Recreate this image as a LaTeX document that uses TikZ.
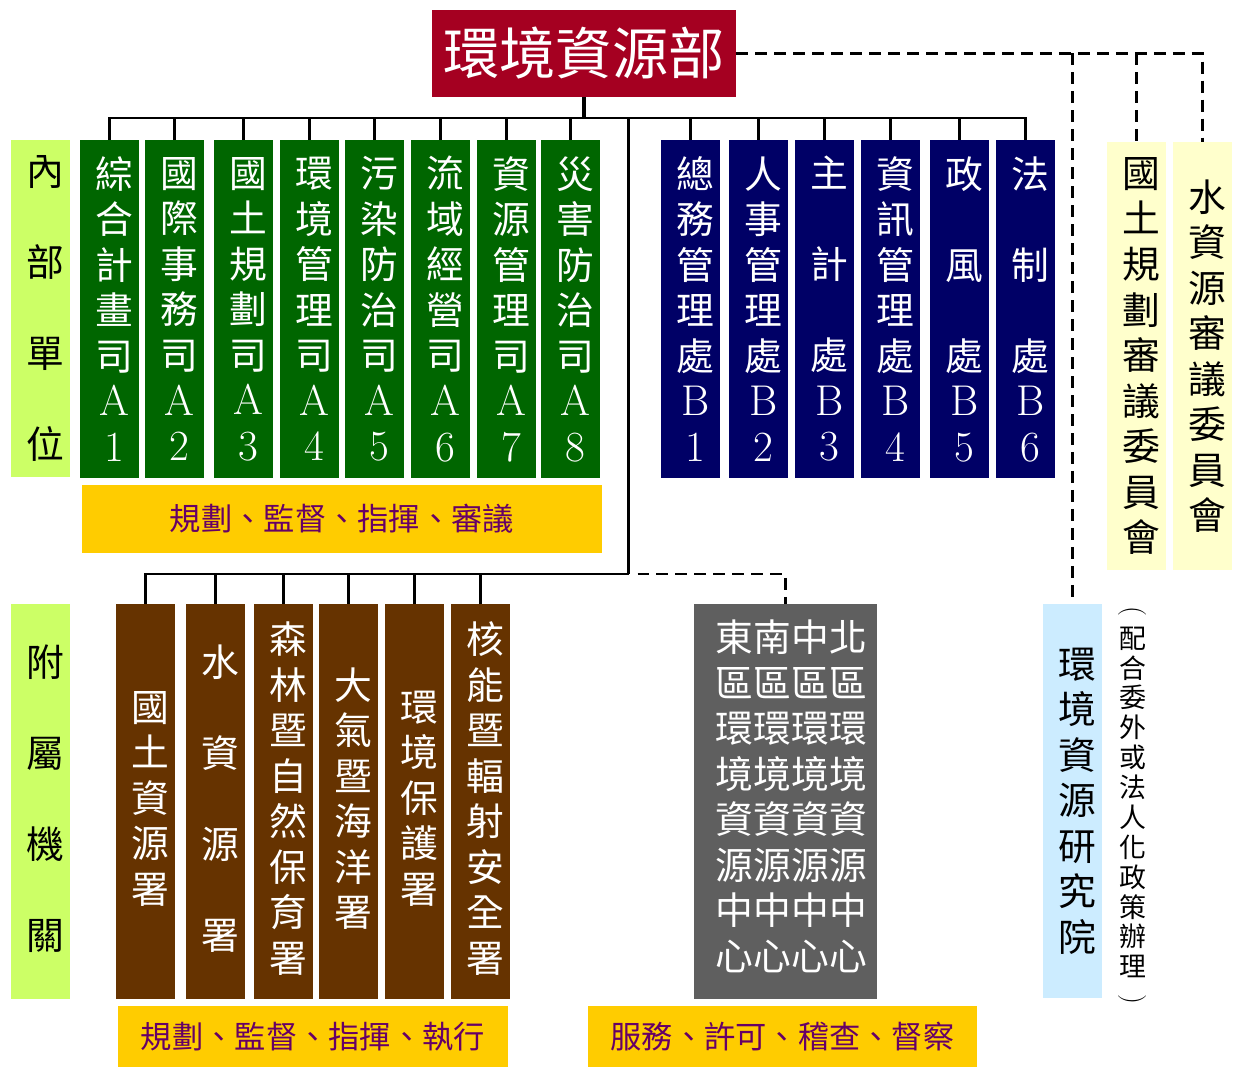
\documentclass[tikz,border=0pt]{standalone}
\usepackage{fontspec}
\usepackage{graphicx}
\newfontfamily\cjk{Noto Sans CJK TC}
\newcommand\blankrow{\phantom{口}}
\newcommand\latn[1]{{\rmfamily\fontsize{24.5pt}{25.9pt}\selectfont #1}}
\newcommand\vparen[1]{\rotatebox[origin=c]{-90}{\rmfamily\fontsize{16pt}{17pt}\selectfont #1}}
\definecolor{moered}{HTML}{A50021}
\definecolor{agreen}{HTML}{006600}
\definecolor{bblue}{HTML}{000066}
\definecolor{cbrown}{HTML}{663300}
\definecolor{graybox}{HTML}{5F5F5F}
\definecolor{limebox}{HTML}{CCFF66}
\definecolor{baryellow}{HTML}{FFCC00}
\definecolor{purp}{HTML}{660066}
\definecolor{paleyellow}{HTML}{FFFFCC}
\definecolor{paleblue}{HTML}{CCECFF}
\begin{document}
\begin{tikzpicture}[x=0.02cm,y=-0.02cm,
  colbox/.style={rectangle, inner sep=0pt, minimum width=1.18cm},
  greenbox/.style={colbox, fill=agreen, minimum height=6.76cm},
  bluebox/.style={colbox, fill=bblue, minimum height=6.76cm},
  brownbox/.style={colbox, fill=cbrown, minimum height=7.9cm},
  vtxt/.style={align=center, inner sep=0pt, text=white, font=\cjk\fontsize{21.5pt}{25.9pt}\selectfont},
  vtxtk/.style={vtxt, text=black},
  barbox/.style={rectangle, inner sep=0pt, fill=baryellow},
  bartxt/.style={inner sep=0pt, text=purp, font=\cjk\fontsize{17.8pt}{20pt}\selectfont},
  conn/.style={line width=1.6pt},
  dashconn/.style={line width=1.6pt, dash pattern=on 6.8pt off 4pt}]
\useasboundingbox (0,0) rectangle (1242,1068);
\fill[white] (0,0) rectangle (1242,1068);

% title
\node[rectangle, fill=moered, inner sep=0pt, minimum width=6.08cm, minimum height=1.74cm] (moe) at (584,53.5) {};
\node[inner sep=0pt, text=white, font=\cjk\fontsize{32pt}{36pt}\selectfont] (moet) at (moe.center) {環境資源部};

% internal units label
\node[colbox, fill=limebox, minimum height=6.74cm] (lab1) at (40.5,308.5) {};
\node[vtxtk] (lab1t) at ([xshift=0.1cm]lab1.center) {內\\\blankrow\\部\\\blankrow\\單\\\blankrow\\位};

% A boxes
\node[greenbox] (a1) at (109.5,309) {};
\node[greenbox] (a2) at (174.5,309) {};
\node[greenbox] (a3) at (243.5,309) {};
\node[greenbox] (a4) at (309.5,309) {};
\node[greenbox] (a5) at (374.5,309) {};
\node[greenbox] (a6) at (440.5,309) {};
\node[greenbox] (a7) at (506.5,309) {};
\node[greenbox] (a8) at (570.5,309) {};
\node[vtxt] (a1t) at ([xshift=0.1cm]a1.center) {綜\\合\\計\\畫\\司\\\latn{A}\\\latn{1}};
\node[vtxt] (a2t) at ([xshift=0.1cm]a2.center) {國\\際\\事\\務\\司\\\latn{A}\\\latn{2}};
\node[vtxt] (a3t) at ([xshift=0.1cm]a3.center) {國\\土\\規\\劃\\司\\\latn{A}\\\latn{3}};
\node[vtxt] (a4t) at ([xshift=0.1cm]a4.center) {環\\境\\管\\理\\司\\\latn{A}\\\latn{4}};
\node[vtxt] (a5t) at ([xshift=0.1cm]a5.center) {污\\染\\防\\治\\司\\\latn{A}\\\latn{5}};
\node[vtxt] (a6t) at ([xshift=0.1cm]a6.center) {流\\域\\經\\營\\司\\\latn{A}\\\latn{6}};
\node[vtxt] (a7t) at ([xshift=0.1cm]a7.center) {資\\源\\管\\理\\司\\\latn{A}\\\latn{7}};
\node[vtxt] (a8t) at ([xshift=0.1cm]a8.center) {災\\害\\防\\治\\司\\\latn{A}\\\latn{8}};

% B boxes
\node[bluebox] (b1) at (690.5,309) {};
\node[bluebox] (b2) at (758.5,309) {};
\node[bluebox] (b3) at (824.5,309) {};
\node[bluebox] (b4) at (890.5,309) {};
\node[bluebox] (b5) at (959.5,309) {};
\node[bluebox] (b6) at (1025.5,309) {};
\node[vtxt] (b1t) at ([xshift=0.1cm]b1.center) {總\\務\\管\\理\\處\\\latn{B}\\\latn{1}};
\node[vtxt] (b2t) at ([xshift=0.1cm]b2.center) {人\\事\\管\\理\\處\\\latn{B}\\\latn{2}};
\node[vtxt] (b3t) at ([xshift=0.1cm]b3.center) {主\\\blankrow\\計\\\blankrow\\處\\\latn{B}\\\latn{3}};
\node[vtxt] (b4t) at ([xshift=0.1cm]b4.center) {資\\訊\\管\\理\\處\\\latn{B}\\\latn{4}};
\node[vtxt] (b5t) at ([xshift=0.1cm]b5.center) {政\\\blankrow\\風\\\blankrow\\處\\\latn{B}\\\latn{5}};
\node[vtxt] (b6t) at ([xshift=0.1cm]b6.center) {法\\\blankrow\\制\\\blankrow\\處\\\latn{B}\\\latn{6}};

% top yellow bar
\node[barbox, minimum width=10.4cm, minimum height=1.36cm] (bar1) at (342,519) {};
\node[bartxt] (bar1t) at (bar1.center) {規劃、監督、指揮、審議};

% committees
\node[colbox, fill=paleyellow, minimum height=8.56cm] (com1) at (1136.5,356) {};
\node[colbox, fill=paleyellow, minimum height=8.56cm] (com2) at (1202.5,356) {};
\node[vtxtk] (com1t) at ([xshift=0.1cm]com1.center) {國\\土\\規\\劃\\審\\議\\委\\員\\會};
\node[vtxtk] (com2t) at ([xshift=0.1cm]com2.center) {水\\資\\源\\審\\議\\委\\員\\會};

% affiliated label
\node[colbox, fill=limebox, minimum height=7.9cm] (lab2) at (40.5,801.5) {};
\node[vtxtk] (lab2t) at ([xshift=0.1cm,yshift=0.05cm]lab2.center) {附\\\blankrow\\屬\\\blankrow\\機\\\blankrow\\關};

% brown boxes
\node[brownbox] (c1) at (145.5,801.5) {};
\node[brownbox] (c2) at (215.5,801.5) {};
\node[brownbox] (c3) at (283.5,801.5) {};
\node[brownbox] (c4) at (348.5,801.5) {};
\node[brownbox] (c5) at (414.5,801.5) {};
\node[brownbox] (c6) at (480.5,801.5) {};
\node[vtxt] (c1t) at ([xshift=0.1cm,yshift=0.06cm]c1.center) {國\\土\\資\\源\\署};
\node[vtxt] (c2t) at ([xshift=0.1cm,yshift=0.06cm]c2.center) {水\\\blankrow\\資\\\blankrow\\源\\\blankrow\\署};
\node[vtxt] (c3t) at ([xshift=0.1cm,yshift=0.06cm]c3.center) {森\\林\\暨\\自\\然\\保\\育\\署};
\node[vtxt] (c4t) at ([xshift=0.1cm,yshift=0.06cm]c4.center) {大\\氣\\暨\\海\\洋\\署};
\node[vtxt] (c5t) at ([xshift=0.1cm,yshift=0.06cm]c5.center) {環\\境\\保\\護\\署};
\node[vtxt] (c6t) at ([xshift=0.1cm,yshift=0.06cm]c6.center) {核\\能\\暨\\輻\\射\\安\\全\\署};

% gray box
\node[rectangle, inner sep=0pt, fill=graybox, minimum width=3.66cm, minimum height=7.9cm] (gray) at (785.5,801.5) {};
\node[vtxt] (grayt) at ([xshift=0.12cm,yshift=0.1cm]gray.center) {東南中北\\區區區區\\環環環環\\境境境境\\資資資資\\源源源源\\中中中中\\心心心心};

% institute
\node[colbox, fill=paleblue, minimum height=7.88cm] (inst) at (1072.5,801) {};
\node[vtxtk] (instt) at ([xshift=0.1cm]inst.center) {環\\境\\資\\源\\研\\究\\院};
\node[align=center, inner sep=0pt, text=black, font=\cjk\fontsize{15.3pt}{17pt}\selectfont] (note) at (1133,806.5) {\vparen{(}\\配\\合\\委\\外\\或\\法\\人\\化\\政\\策\\辦\\理\\\vparen{)}};

% bottom yellow bars
\node[barbox, minimum width=7.8cm, minimum height=1.22cm] (bar2) at (313,1036.5) {};
\node[bartxt] (bar2t) at (bar2.center) {規劃、監督、指揮、執行};
\node[barbox, minimum width=7.78cm, minimum height=1.22cm] (bar3) at (782.5,1036.5) {};
\node[bartxt] (bar3t) at (bar3.center) {服務、許可、稽查、督察};

% connectors
\coordinate (bus) at (584,118);
\coordinate (split) at (628.5,118);
\coordinate (sub) at (628.5,574);
\draw[line width=2pt] (moe.south) -- (bus);
\foreach \n in {a1,a2,a3,a4,a5,a6,a7,a8,b1,b2,b3,b4,b5,b6}
  \draw[conn] (\n.north) |- (bus);
\draw[conn] (split) -- (sub);
\foreach \n in {c1,c2,c3,c4,c5,c6}
  \draw[conn] (\n.north) |- (sub);
\draw[dashconn] ([xshift=0.18cm]sub) -| (gray.north);
\coordinate (d1) at (inst.north |- moe.east);
\coordinate (d2) at (com1.north |- moe.east);
\draw[dashconn] (moe.east) -| (com2.north);
\draw[dashconn] (d1) -- (inst.north);
\draw[dashconn] (d2) -- (com1.north);
\end{tikzpicture}
\end{document}
